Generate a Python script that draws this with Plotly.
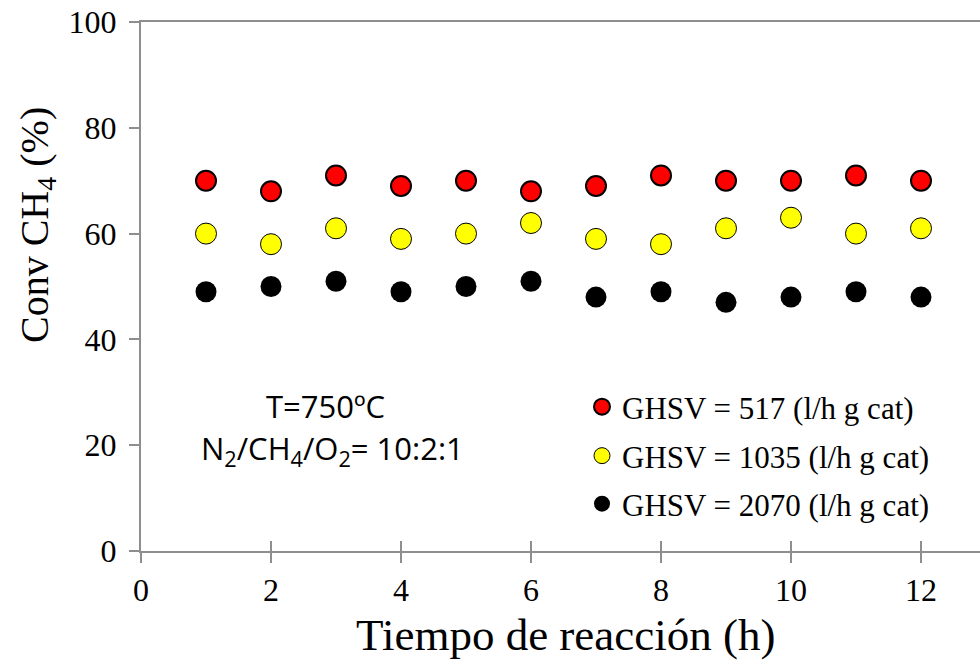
import plotly.graph_objects as go

hours = [1, 2, 3, 4, 5, 6, 7, 8, 9, 10, 11, 12]
conv_517 = [70, 68, 71, 69, 70, 68, 69, 71, 70, 70, 71, 70]
conv_1035 = [60, 58, 61, 59, 60, 62, 59, 58, 61, 63, 60, 61]
conv_2070 = [49, 50, 51, 49, 50, 51, 48, 49, 47, 48, 49, 48]
names = ["GHSV = 517 (l/h g cat)", "GHSV = 1035 (l/h g cat)", "GHSV = 2070 (l/h g cat)"]
x_ticks = [0, 2, 4, 6, 8, 10, 12]
y_ticks = [0, 20, 40, 60, 80, 100]

W, H = 980, 668
ML, MR, MT, MB = 141, 0, 22, 117
pw, ph = W - ML - MR, H - MT - MB

def px_x(p):
    return (p - ML) / pw

def px_y(p):
    return (H - MB - p) / ph

serif = "Liberation Serif, Times New Roman, serif"
sans = "Open Sans, Carlito, sans-serif"
axis_col = "#8e8e8e"

fig = go.Figure()
styles = [
    dict(color="#ff0000", size=20, line=dict(color="black", width=2)),
    dict(color="#ffff00", size=21, line=dict(color="black", width=1)),
    dict(color="#000000", size=21, line=dict(color="black", width=0)),
]
legends = ["legend", "legend2", "legend3"]
for ys, nm, st, lg in zip([conv_517, conv_1035, conv_2070], names, styles, legends):
    fig.add_trace(go.Scatter(x=hours, y=ys, mode="markers", name=nm, marker=st,
                             legend=lg, hoverinfo="skip"))

# dummy trace to carry the inner half of the crossing x ticks
fig.add_trace(go.Scatter(x=[None], y=[None], xaxis="x2", showlegend=False, hoverinfo="skip"))

xr = [0, (W - ML) / 65.0]
fig.update_layout(
    width=W, height=H,
    margin=dict(l=ML, r=MR, t=MT, b=MB),
    plot_bgcolor="white", paper_bgcolor="white",
    showlegend=True,
    xaxis=dict(range=xr, tickvals=x_ticks, ticks="outside", ticklen=10, tickwidth=2,
               tickcolor=axis_col, showline=True, linecolor=axis_col, linewidth=2,
               mirror=True, showgrid=False, zeroline=False,
               tickfont=dict(family=serif, size=32, color="black")),
    xaxis2=dict(range=xr, overlaying="x", tickvals=x_ticks, ticks="inside", ticklen=10,
                tickwidth=2, tickcolor=axis_col, showticklabels=False, showline=False,
                showgrid=False, zeroline=False, side="bottom"),
    yaxis=dict(range=[0, 100], tickvals=y_ticks, ticks="outside", ticklen=10, tickwidth=2,
               tickcolor=axis_col, showline=True, linecolor=axis_col, linewidth=2,
               showgrid=False, zeroline=False, ticklabelstandoff=6,
               tickfont=dict(family=serif, size=32, color="black")),
)

for i, lg in enumerate(legends):
    ycen = [407, 456, 504][i]
    fig.update_layout({lg: dict(x=px_x(582), y=px_y(ycen), xref="paper", yref="paper",
                                xanchor="left", yanchor="middle",
                                font=dict(family=serif, size=31, color="black"),
                                bgcolor="rgba(0,0,0,0)", itemsizing="trace",
                                tracegroupgap=0)})

fig.add_annotation(text="Tiempo de reacción (h)", xref="paper", yref="paper",
                   x=px_x(565), y=px_y(635), showarrow=False,
                   xanchor="center", yanchor="middle",
                   font=dict(family=serif, size=45, color="black"))
fig.add_annotation(text="Conv CH<sub>4</sub> (%)", xref="paper", yref="paper",
                   x=px_x(37), y=px_y(225), showarrow=False, textangle=-90,
                   xanchor="center", yanchor="middle",
                   font=dict(family=serif, size=40, color="black"))
fig.add_annotation(text="T=750ºC", xref="paper", yref="paper",
                   x=px_x(325), y=px_y(406), showarrow=False,
                   xanchor="center", yanchor="middle",
                   font=dict(family=sans, size=31, color="black"))
fig.add_annotation(text="N<sub>2</sub>/CH<sub>4</sub>/O<sub>2</sub>= 10:2:1", xref="paper", yref="paper",
                   x=px_x(332), y=px_y(450), showarrow=False,
                   xanchor="center", yanchor="middle",
                   font=dict(family=sans, size=31, color="black"))

fig.write_html("out.html")
